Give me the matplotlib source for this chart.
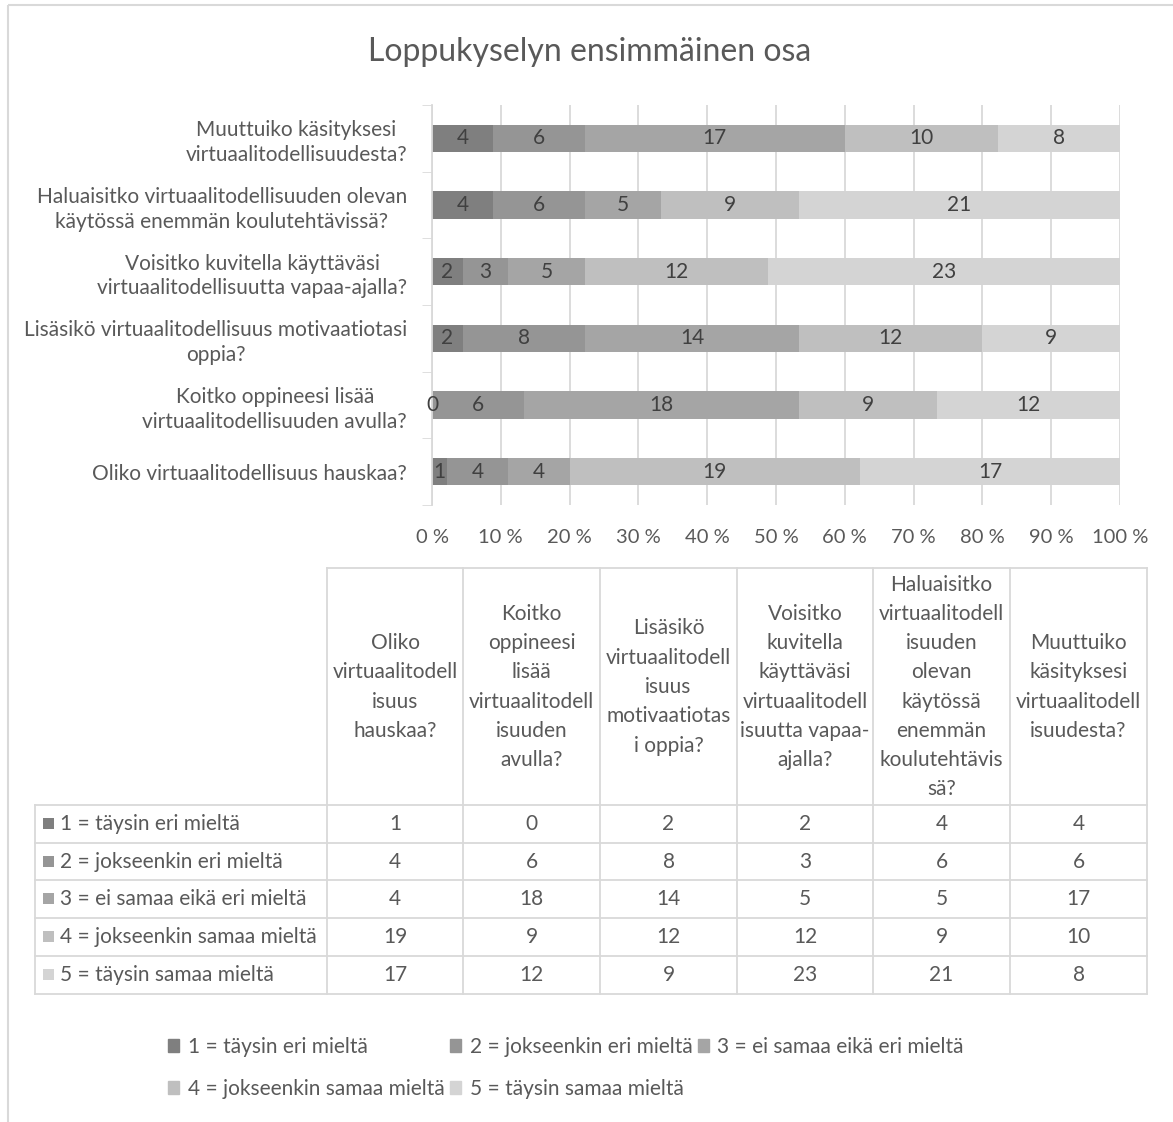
import matplotlib
matplotlib.use("Agg")
import matplotlib.pyplot as plt
from matplotlib.patches import Patch, Rectangle
import numpy as np

plt.rcParams['font.family'] = ['Lato', 'DejaVu Sans']

# data (columns in table order, chart bottom -> top)
questions = ["Oliko virtuaalitodellisuus hauskaa?",
             "Koitko oppineesi lisää\nvirtuaalitodellisuuden avulla?",
             "Lisäsikö virtuaalitodellisuus motivaatiotasi\noppia?",
             "Voisitko kuvitella käyttäväsi\nvirtuaalitodellisuutta vapaa-ajalla?",
             "Haluaisitko virtuaalitodellisuuden olevan\nkäytössä enemmän koulutehtävissä?",
             "Muuttuiko käsityksesi\nvirtuaalitodellisuudesta?"]
table_headers = ["Oliko\nvirtuaalitodell\nisuus\nhauskaa?",
                 "Koitko\noppineesi\nlisää\nvirtuaalitodell\nisuuden\navulla?",
                 "Lisäsikö\nvirtuaalitodell\nisuus\nmotivaatiotas\ni oppia?",
                 "Voisitko\nkuvitella\nkäyttäväsi\nvirtuaalitodell\nisuutta vapaa-\najalla?",
                 "Haluaisitko\nvirtuaalitodell\nisuuden\nolevan\nkäytössä\nenemmän\nkoulutehtävis\nsä?",
                 "Muuttuiko\nkäsityksesi\nvirtuaalitodell\nisuudesta?"]
series_names = ["1 = täysin eri mieltä", "2 = jokseenkin eri mieltä",
                "3 = ei samaa eikä eri mieltä", "4 = jokseenkin samaa mieltä",
                "5 = täysin samaa mieltä"]
s1 = [1, 0, 2, 2, 4, 4]
s2 = [4, 6, 8, 3, 6, 6]
s3 = [4, 18, 14, 5, 5, 17]
s4 = [19, 9, 12, 12, 9, 10]
s5 = [17, 12, 9, 23, 21, 8]
colors = ["#7f7f7f", "#959595", "#a5a5a5", "#bfbfbf", "#d4d4d4"]

W, H = 1173, 1122
txt = "#595959"
grid_c = "#d9d9d9"
fs = 15

fig = plt.figure(figsize=(W / 100, H / 100), dpi=100)

# chart
ax = fig.add_axes([432 / W, 1 - 505 / H, (1120 - 432) / W, 400 / H])
data = np.array([s1, s2, s3, s4, s5], dtype=float)
totals = data.sum(axis=0)
pct = data / totals * 100
y = np.arange(len(questions))
left = np.zeros(len(questions))
for i in range(5):
    ax.barh(y, pct[i], left=left, height=0.41, color=colors[i], zorder=2)
    for j in range(len(questions)):
        ax.text(left[j] + pct[i][j] / 2, y[j], str(int(data[i][j])),
                ha='center', va='center', fontsize=fs, color="#404040", zorder=3)
    left += pct[i]

ax.set_xlim(0, 100)
ax.set_ylim(-0.5, len(questions) - 0.5)
ax.set_xticks(np.arange(0, 101, 10))
ax.set_xticklabels([f"{v} %" for v in range(0, 101, 10)], fontsize=14.5, color=txt)
ax.set_yticks(y)
ax.set_yticklabels(questions, fontsize=fs, color=txt, multialignment='center',
                   linespacing=1.3)
ax.set_yticks(np.arange(-0.5, len(questions), 1), minor=True)
ax.tick_params(axis='y', which='major', length=0, pad=18)
ax.tick_params(axis='y', which='minor', length=7, color=grid_c)
ax.tick_params(axis='x', length=0, pad=17)
ax.xaxis.grid(True, color=grid_c, lw=1.3, zorder=0)
for s in ['top', 'right', 'bottom']:
    ax.spines[s].set_visible(False)
ax.spines['left'].set_color(grid_c)
ax.spines['left'].set_linewidth(1.3)

fig.text(590 / W, 1 - 52 / H, "Loppukyselyn ensimmäinen osa", ha='center', va='center',
         fontsize=23, color=txt)

# data table (pixel coordinates)
ov = fig.add_axes([0, 0, 1, 1])
ov.set_xlim(0, W)
ov.set_ylim(H, 0)
ov.axis('off')
ov.patch.set_visible(False)

col_x = [327, 463, 600, 737, 873, 1010, 1147]
row_y = [568, 805, 843, 880, 918, 956, 994]
tab_left = 35
lw = 1.3
ov.plot([col_x[0], col_x[-1]], [row_y[0], row_y[0]], color=grid_c, lw=lw)
for yy in row_y[1:]:
    ov.plot([tab_left, col_x[-1]], [yy, yy], color=grid_c, lw=lw)
for xx in col_x:
    ov.plot([xx, xx], [row_y[0], row_y[-1]], color=grid_c, lw=lw)
ov.plot([tab_left, tab_left], [row_y[1], row_y[-1]], color=grid_c, lw=lw)

for c, head in enumerate(table_headers):
    cx = (col_x[c] + col_x[c + 1]) / 2
    ov.text(cx, 687, head, ha='center', va='center', fontsize=fs, color=txt,
            linespacing=1.58)
for r in range(5):
    cy = (row_y[r + 1] + row_y[r + 2]) / 2
    ov.add_patch(Rectangle((43, cy - 6), 11, 11, color=colors[r], lw=0))
    ov.text(60, cy, series_names[r], ha='left', va='center', fontsize=fs, color=txt)
    for c in range(len(questions)):
        cx = (col_x[c] + col_x[c + 1]) / 2
        ov.text(cx, cy, str(int(data[r][c])), ha='center', va='center',
                fontsize=fs, color=txt)

# outer border
ov.add_patch(Rectangle((8, 5), W + 20, H + 20, fill=False, ec=grid_c, lw=1.5))

# legend
handles = [Patch(color=colors[i], label=series_names[i]) for i in range(5)]
order = [0, 3, 1, 4, 2]
fig.legend([handles[i] for i in order], [series_names[i] for i in order],
           ncol=3, loc='upper left', bbox_to_anchor=(168 / W, 1 - 1037 / H),
           frameon=False, fontsize=fs, labelcolor=txt, handlelength=0.55,
           handleheight=0.55, handletextpad=0.4, columnspacing=0.25,
           labelspacing=1.05, borderaxespad=0, borderpad=0)

fig.savefig("out.png", dpi=100)
